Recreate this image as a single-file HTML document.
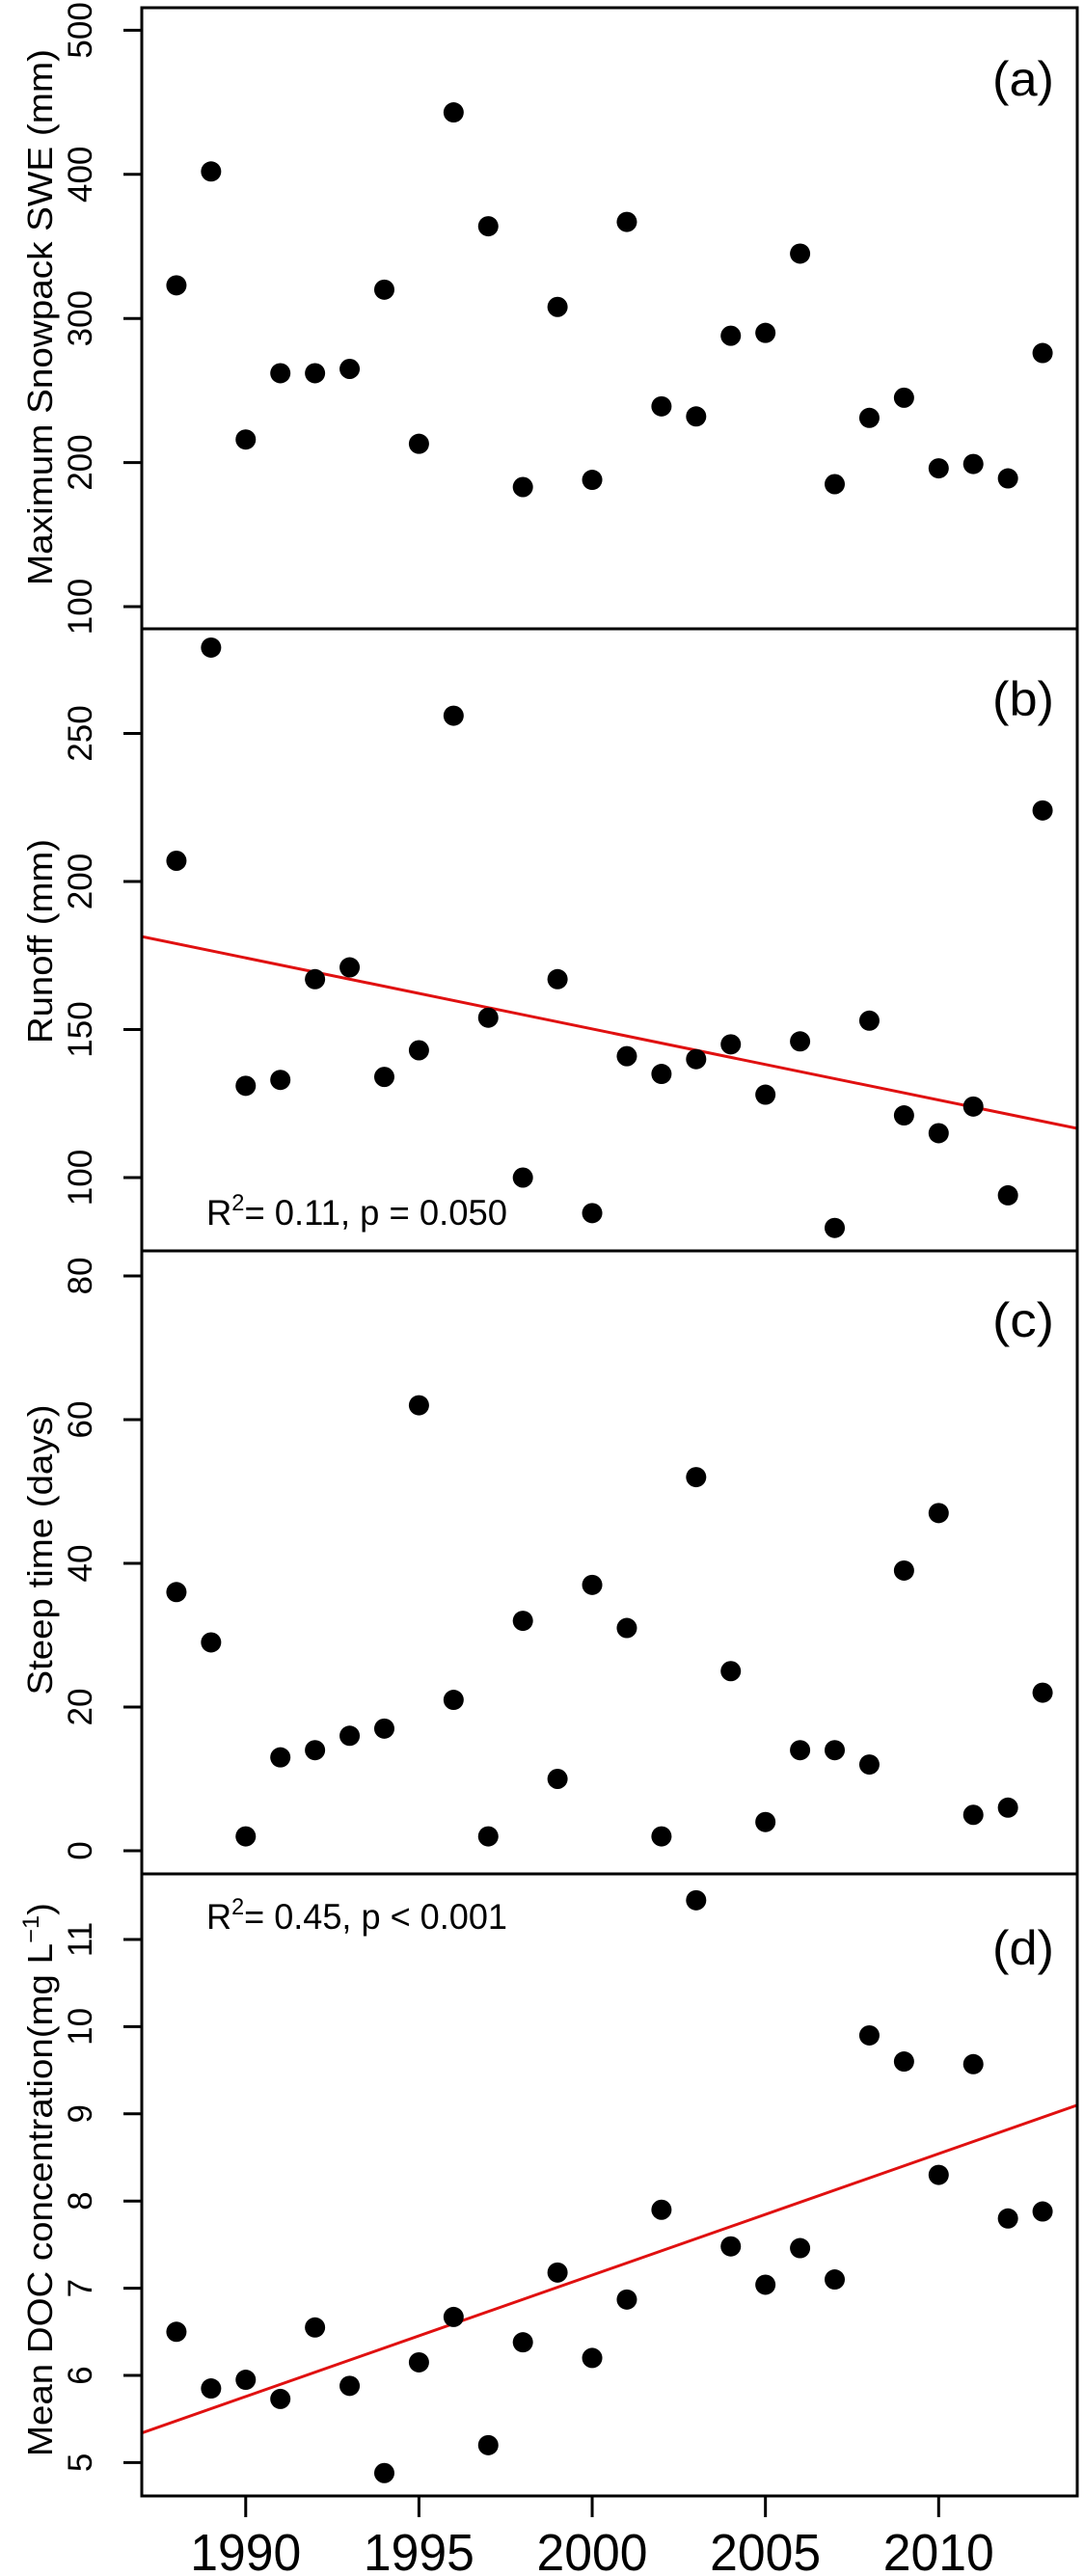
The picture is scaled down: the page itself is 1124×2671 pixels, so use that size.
<!DOCTYPE html>
<html><head><meta charset="utf-8"><style>
html,body{margin:0;padding:0;background:#fff}
svg{display:block}
text{font-family:"Liberation Sans",Arial,sans-serif;fill:#000}
</style></head><body>
<svg id="chart" width="1124" height="2671" viewBox="0 0 1124 2671" xmlns="http://www.w3.org/2000/svg"></svg>
<script>
const years = [1988,1989,1990,1991,1992,1993,1994,1995,1996,1997,1998,1999,2000,2001,2002,2003,2004,2005,2006,2007,2008,2009,2010,2011,2012,2013];
const sweValues = [323,402,216,262,262,265,320,213,443,364,183,308,188,367,239,232,288,290,345,185,231,245,196,199,189,276];
const runoffValues = [207,279,131,133,167,171,134,143,256,154,100,167,88,141,135,140,145,128,146,83,153,121,115,124,94,224];
const steepValues = [36,29,2,13,14,16,17,62,21,2,32,10,37,31,2,52,25,4,14,14,12,39,47,5,6,22];
const docValues = [6.5,5.85,5.95,5.73,6.55,5.88,4.88,6.15,6.67,5.2,6.38,7.18,6.2,6.87,7.9,11.45,7.48,7.04,7.46,7.1,9.9,9.6,8.3,9.57,7.8,7.88];
const sweTicks = [100,200,300,400,500];
const runoffTicks = [100,150,200,250];
const steepTicks = [0,20,40,60,80];
const docTicks = [5,6,7,8,9,10,11];
const xTicks = [1990,1995,2000,2005,2010];
const runoffFit = [181.4,116.6];
const docFit = [5.34,9.1];

const NS = "http://www.w3.org/2000/svg";
const svg = document.getElementById('chart');
const L = 147, R = 1117;
function xS(yr){ return L + (yr-1987)*(R-L)/27; }
function mk(tag, attrs, parent){
  const e = document.createElementNS(NS, tag);
  for (const k in attrs) e.setAttribute(k, attrs[k]);
  (parent||svg).appendChild(e);
  return e;
}
const panels = [
  {id:'a', top:8, bot:652, v0:100, p0:629, k:1.494, vals:sweValues, ticks:sweTicks, label:'Maximum Snowpack SWE (mm)', lc:329, ll:556, tagY:82},
  {id:'b', top:652, bot:1297, v0:100, p0:1221, k:3.07, vals:runoffValues, ticks:runoffTicks, label:'Runoff (mm)', lc:976, ll:212, tagY:725, fit:runoffFit, stat:'0.11, p = 0.050', statY:1270},
  {id:'c', top:1297, bot:1943, v0:0, p0:1919, k:7.45, vals:steepValues, ticks:steepTicks, label:'Steep time (days)', lc:1607, ll:301, tagY:1369},
  {id:'d', top:1943, bot:2588, v0:11, p0:2011, k:90.4, vals:docValues, ticks:docTicks, label:'DOC', lc:2260, ll:574, tagY:2020, fit:docFit, stat:'0.45, p < 0.001', statY:2000}
];
panels.forEach(p=>{
  const yS = v => p.p0 - (v-p.v0)*p.k;
  const g = mk('g',{});
  
  
  const cp = mk('clipPath',{id:'clip-'+p.id}, g);
  mk('rect',{x:L,y:p.top,width:R-L,height:p.bot-p.top}, cp);
  p.ticks.forEach(t=>{
    const ty = yS(t);
    const tk = mk('line',{x1:L,x2:L-19,y1:ty,y2:ty,stroke:'#000','stroke-width':3}, g);
    
    
    const tl = mk('text',{x:0,y:0,'font-size':35,'text-anchor':'middle',transform:`translate(95,${ty}) rotate(-90)`}, g);
    tl.textContent = t;
    
    
  });
  const yl = mk('text',{x:0,y:0,'font-size':36,'text-anchor':'middle',textLength:p.ll,lengthAdjust:'spacingAndGlyphs',transform:`translate(54,${p.lc}) rotate(-90)`}, g);
  
  
  if (p.id==='d'){
    yl.textContent = 'Mean DOC concentration(mg L';
    const sup = mk('tspan',{'font-size':24,dy:-14}, yl); sup.textContent='\u22121';
    const cl = mk('tspan',{dy:14}, yl); cl.textContent=')';
  } else yl.textContent = p.label;
  if (p.fit){
    const fl = mk('line',{x1:xS(1987),x2:xS(2014),y1:yS(p.fit[0]),y2:yS(p.fit[1]),stroke:'#e01010','stroke-width':3,'clip-path':`url(#clip-${p.id})`}, g);
    
    
    const st = mk('text',{x:214,y:p.statY,'font-size':37,textLength:312,lengthAdjust:'spacingAndGlyphs'}, g);
    
    
    const t1 = mk('tspan',{}, st); t1.textContent='R';
    const t2 = mk('tspan',{'font-size':24,dy:-15}, st); t2.textContent='2';
    const t3 = mk('tspan',{dy:15}, st); t3.textContent='= '+p.stat;
  }
  p.vals.forEach((v,i)=>{
    const c = mk('ellipse',{cx:xS(years[i]),cy:yS(v),rx:10.5,ry:10.5,fill:'#000'}, g);
    
    
  });
  const tg = mk('text',{x:1029,y:p.tagY+17,'font-size':50,textLength:64,lengthAdjust:'spacingAndGlyphs'}, g);
  tg.textContent = '('+p.id+')';
  
  
  const fr = mk('rect',{x:L,y:p.top,width:R-L,height:p.bot-p.top,fill:'none',stroke:'#000','stroke-width':3}, g);
  
  
});
xTicks.forEach(t=>{
  const x = xS(t);
  const tk = mk('line',{x1:x,x2:x,y1:2588,y2:2610,stroke:'#000','stroke-width':3});
  
  
  const tl = mk('text',{x:x,y:2665,'font-size':54,'text-anchor':'middle',textLength:115,lengthAdjust:'spacingAndGlyphs'});
  tl.textContent = t;
  
  
});
</script>
</body></html>
